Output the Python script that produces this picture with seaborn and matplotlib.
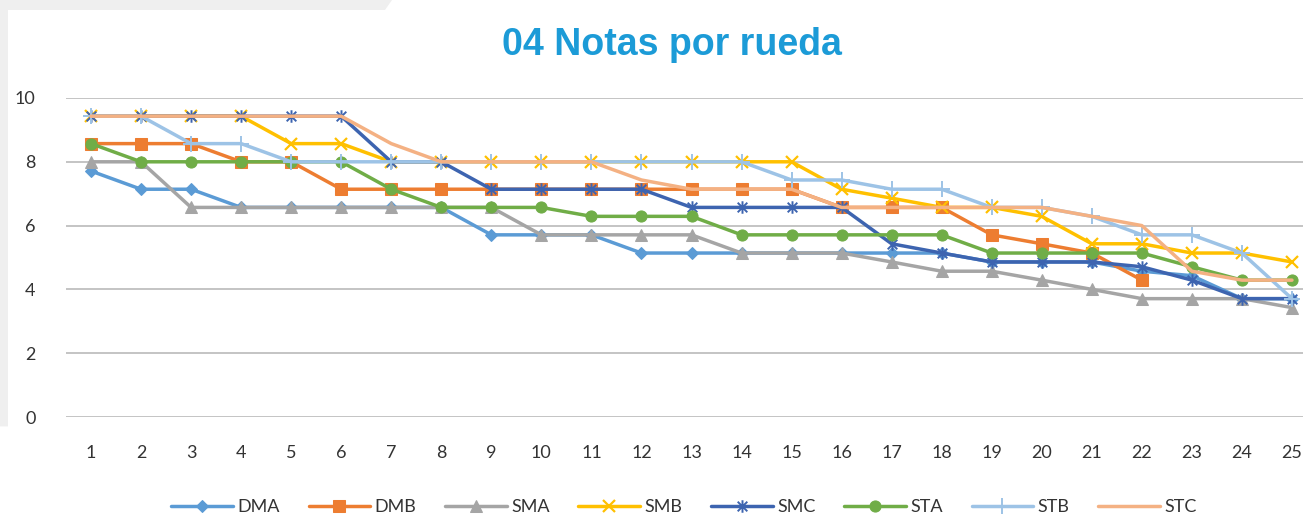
import numpy as np
import pandas as pd
import matplotlib
matplotlib.use("Agg")
import matplotlib.pyplot as plt
from matplotlib.path import Path
from matplotlib.patches import Polygon
import seaborn as sns

# values (notas per rueda)
rounds = list(range(1, 26))
series_names = ["DMA", "DMB", "SMA", "SMB", "SMC", "STA", "STB", "STC"]

dma = [7.71, 7.14, 7.14, 6.57, 6.57, 6.57, 6.57, 6.57, 5.71, 5.71, 5.71, 5.14, 5.14,
       5.14, 5.14, 5.14, 5.14, 5.14, 4.86, 4.86, 4.86, 4.57, 4.43, 3.71, 3.71]
dmb = [8.57, 8.57, 8.57, 8.0, 8.0, 7.14, 7.14, 7.14, 7.14, 7.14, 7.14, 7.14, 7.14,
       7.14, 7.14, 6.57, 6.57, 6.57, 5.71, 5.43, 5.14, 4.29, np.nan, np.nan, np.nan]
sma = [8.0, 8.0, 6.57, 6.57, 6.57, 6.57, 6.57, 6.57, 6.57, 5.71, 5.71, 5.71, 5.71,
       5.14, 5.14, 5.14, 4.86, 4.57, 4.57, 4.29, 4.0, 3.71, 3.71, 3.71, 3.43]
smb = [9.43, 9.43, 9.43, 9.43, 8.57, 8.57, 8.0, 8.0, 8.0, 8.0, 8.0, 8.0, 8.0,
       8.0, 8.0, 7.14, 6.86, 6.57, 6.57, 6.29, 5.43, 5.43, 5.14, 5.14, 4.86]
smc = [9.43, 9.43, 9.43, 9.43, 9.43, 9.43, 8.0, 8.0, 7.14, 7.14, 7.14, 7.14, 6.57,
       6.57, 6.57, 6.57, 5.43, 5.14, 4.86, 4.86, 4.86, 4.71, 4.29, 3.71, 3.71]
sta = [8.57, 8.0, 8.0, 8.0, 8.0, 8.0, 7.14, 6.57, 6.57, 6.57, 6.29, 6.29, 6.29,
       5.71, 5.71, 5.71, 5.71, 5.71, 5.14, 5.14, 5.14, 5.14, 4.71, 4.29, 4.29]
stb = [9.43, 9.43, 8.57, 8.57, 8.0, 8.0, 8.0, 8.0, 8.0, 8.0, 8.0, 8.0, 8.0,
       8.0, 7.43, 7.43, 7.14, 7.14, 6.57, 6.57, 6.29, 5.71, 5.71, 5.14, 3.71]
stc = [9.43, 9.43, 9.43, 9.43, 9.43, 9.43, 8.57, 8.0, 8.0, 8.0, 8.0, 7.43, 7.14,
       7.14, 7.14, 6.57, 6.57, 6.57, 6.57, 6.57, 6.29, 6.0, 4.57, 4.29, 4.29]

series_values = [dma, dmb, sma, smb, smc, sta, stb, stc]

# excel style asterisk: x with a vertical bar
asterisk = Path(
    [(-1, -1), (1, 1), (-1, 1), (1, -1), (0, -1.3), (0, 1.3)],
    [Path.MOVETO, Path.LINETO, Path.MOVETO, Path.LINETO, Path.MOVETO, Path.LINETO],
)

styles = {
    "DMA": dict(color="#5B9BD5", marker="D", markersize=6.5),
    "DMB": dict(color="#ED7D31", marker="s", markersize=8),
    "SMA": dict(color="#A5A5A5", marker="^", markersize=8.5),
    "SMB": dict(color="#FFC000", marker="x", markersize=9, markeredgewidth=1.6),
    "SMC": dict(color="#3D64B0", marker=asterisk, markersize=9, markeredgewidth=1.4),
    "STA": dict(color="#70AD47", marker="o", markersize=8),
    "STB": dict(color="#9DC3E6", marker="+", markersize=11, markeredgewidth=1.4),
    "STC": dict(color="#F4B183", marker=None),
}

sns.set_theme(style="white")
plt.rcParams["font.family"] = ["Lato", "DejaVu Sans"]

fig = plt.figure(figsize=(13.03, 5.2), dpi=100)
fig.patch.set_facecolor("white")

# light gray screenshot border at top-left
fig.patches.append(Polygon([[0, 1], [392 / 1303, 1], [385 / 1303, 1 - 10 / 520],
                            [8 / 1303, 1 - 10 / 520], [8 / 1303, 0.18], [0, 0.18]],
                           closed=True, transform=fig.transFigure,
                           facecolor="#EFEFEF", edgecolor="none", zorder=0))

ax = fig.add_axes([66 / 1303, 1 - 417 / 520, (1317 - 66) / 1303, (417 - 98) / 520])
ax.set_facecolor("none")

for name, vals in zip(series_names, series_values):
    st = dict(styles[name])
    color = st.pop("color")
    sns.lineplot(x=rounds, y=vals, ax=ax, color=color, linewidth=2.5,
                 markeredgecolor=color, markerfacecolor=color, label=name,
                 estimator=None, **st)

ax.set_xlim(0.5, 25.5)
ax.set_ylim(0, 10)
ax.set_yticks([0, 2, 4, 6, 8, 10])
ax.set_xticks(rounds)
ax.set_xticklabels([str(r) for r in rounds])
ax.set_xlabel("")
ax.set_ylabel("")
ax.grid(axis="y", color="#BFBFBF", linewidth=1.3)
ax.grid(axis="x", visible=False)
ax.set_axisbelow(True)
for sp in ax.spines.values():
    sp.set_visible(False)
ax.tick_params(axis="x", length=0, pad=20, labelsize=13, labelcolor="#333333")
ax.tick_params(axis="y", length=0, pad=22, labelsize=13, labelcolor="#333333")

handles, labels = ax.get_legend_handles_labels()
ax.get_legend().remove()
fig.legend(handles, labels, loc="center", ncol=8, frameon=False,
           bbox_to_anchor=(684 / 1303, 1 - 507 / 520), fontsize=13,
           handlelength=3.4, columnspacing=1.6, handletextpad=0.25,
           labelcolor="#333333")

fig.text(672 / 1303, 1 - 45 / 520, "04 Notas por rueda", ha="center", va="center",
         fontsize=27, fontweight="bold", color="#1C9BD7",
         family=["Liberation Sans", "DejaVu Sans"])

fig.savefig("out.png", dpi=100)
